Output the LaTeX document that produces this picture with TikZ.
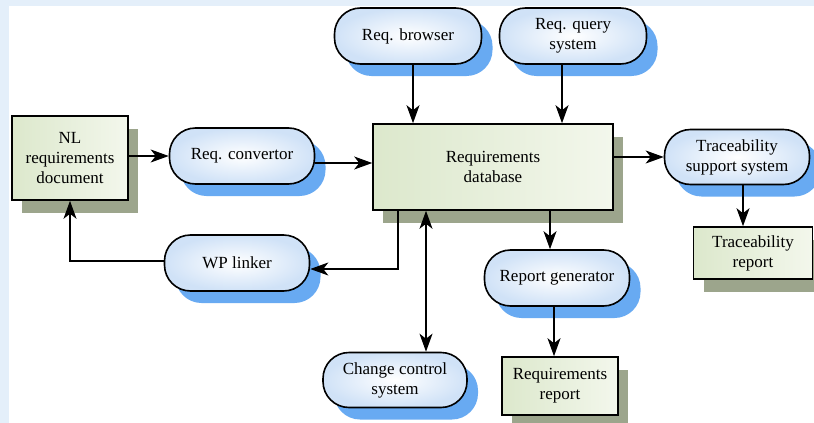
\documentclass[tikz,border=0pt]{standalone}
\usepackage{fontspec}
\setmainfont{Liberation Serif}
\usetikzlibrary{arrows.meta,shadows}

\definecolor{bgblue}{HTML}{E4EFFA}
\definecolor{shblue}{HTML}{68AAF2}
\definecolor{pillblue}{HTML}{D0E2F7}
\definecolor{boxgreen}{HTML}{DCE8CC}
\definecolor{boxlight}{HTML}{F3F7EC}
\definecolor{shgrey}{HTML}{9CA58C}

\tikzset{x=1pt, y=-1pt}
\tikzset{
  proc/.style={draw, line width=1.6pt, rounded corners=26pt, minimum width=145pt,
    minimum height=56pt, align=center, inner color=white, outer color=pillblue,
    drop shadow={shadow xshift=11pt, shadow yshift=-12pt, fill=shblue, opacity=1}},
  docbox/.style={draw, line width=1.6pt, align=center, left color=boxgreen, right color=boxlight,
    drop shadow={shadow xshift=10pt, shadow yshift=-13pt, fill=shgrey, opacity=1}},
  tip/.tip={Stealth[length=18pt, width=13pt, inset=5pt]},
  arr/.style={line width=1.4pt, -tip},
  darr/.style={line width=1.4pt, tip-tip},
}

\begin{document}
\begin{tikzpicture}[font=\fontsize{17}{20}\selectfont]
\fill[bgblue] (0,0) rectangle (814,423);
\fill[white] (9,6) rectangle (814,423);

% boxes
\node[docbox, minimum width=116pt, minimum height=84pt] (nl) at (70,158) {NL\\requirements\\document};
\node[docbox, minimum width=240pt, minimum height=86pt] (db) at (493,167) {Requirements\\database};
\node[docbox, minimum width=119pt, minimum height=52pt] (trr) at (753,253) {Traceability\\report};
\node[docbox, minimum width=116pt, minimum height=58pt] (rr) at (560,386) {Requirements\\report};

% processes
\node[proc] (conv) at (242,156) {Req. convertor};
\node[proc, minimum width=147pt] (brow) at (408,36) {Req. browser};
\node[proc, minimum width=147pt] (query) at (573,36) {Req. query\\system};
\node[proc, minimum height=55pt] (trs) at (737,157) {Traceability\\support system};
\node[proc] (wp) at (237,263) {WP linker};
\node[proc] (rg) at (557,278) {Report generator};
\node[proc, minimum width=144pt, minimum height=55pt] (cc) at (395,380) {Change control\\system};

% connectors
\coordinate (convout) at ([yshift=-7pt]conv.east);
\draw[arr] (nl.east |- conv) -- (conv.west);
\draw[arr] (convout) -- (db.west |- convout);
\draw[arr] ([xshift=5pt]brow.south) -- ([xshift=5pt]brow.south |- db.north);
\draw[arr] ([xshift=-11pt]query.south) -- ([xshift=-11pt]query.south |- db.north);
\draw[arr] (db.east |- trs.west) -- (trs.west);
\draw[arr] ([xshift=6pt]trs.south) -- ([xshift=6pt]trs.south |- trr.north);
\draw[arr] ([xshift=-7pt]rg.north |- db.south) -- ([xshift=-7pt]rg.north);
\draw[arr] ([xshift=-3pt]rg.south) -- ([xshift=-3pt]rg.south |- rr.north);
\draw[darr] ([xshift=31pt]cc.north |- db.south) -- ([xshift=31pt]cc.north);
\draw[arr] ([xshift=-95pt]db.south) |- ([yshift=-6pt]wp.east);
\draw[arr] ([yshift=2pt]wp.west) -| (nl.south);
\end{tikzpicture}
\end{document}
